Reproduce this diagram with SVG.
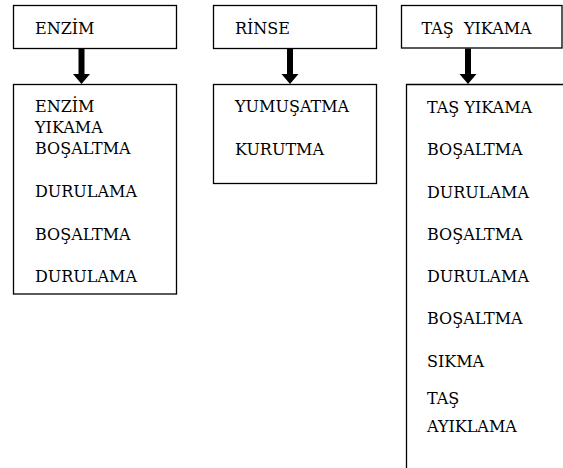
<svg xmlns="http://www.w3.org/2000/svg" width="563" height="468" viewBox="0 0 563 468">
<style>
.box{fill:#fff;stroke:#000;stroke-width:1.3}
.t{font-family:'DejaVu Serif',serif;font-size:16px;fill:#000}
.arr{fill:#000;stroke:none}
</style>
<rect width="563" height="468" fill="#fff"/>
<g id="enzim-head">
<rect class="box" x="13.5" y="5.5" width="163" height="43"/>
<text class="t" x="35" y="34">ENZİM</text>
</g>
<g id="enzim-steps">
<rect class="box" x="13.5" y="84.5" width="163" height="209.5"/>
<text class="t" x="35" y="112">ENZİM</text>
<text class="t" x="35" y="133">YIKAMA</text>
<text class="t" x="35" y="154">BOŞALTMA</text>
<text class="t" x="35" y="197">DURULAMA</text>
<text class="t" x="35" y="240">BOŞALTMA</text>
<text class="t" x="35" y="282">DURULAMA</text>
</g>
<g id="rinse-head">
<rect class="box" x="213.5" y="5.5" width="163" height="43"/>
<text class="t" x="235" y="34">RİNSE</text>
</g>
<g id="rinse-steps">
<rect class="box" x="213.5" y="84.5" width="163" height="99"/>
<text class="t" x="235" y="112">YUMUŞATMA</text>
<text class="t" x="235" y="155">KURUTMA</text>
</g>
<g id="tas-head">
<rect class="box" x="401.5" y="5.5" width="160.5" height="42.5"/>
<text class="t" x="421.5" y="34" xml:space="preserve">TAŞ  YIKAMA</text>
</g>
<g id="tas-steps">
<path d="M406.5 468 V84.5 H563" fill="none" stroke="#000" stroke-width="1.3"/>
<text class="t" x="427" y="113">TAŞ YIKAMA</text>
<text class="t" x="427" y="155">BOŞALTMA</text>
<text class="t" x="427" y="198">DURULAMA</text>
<text class="t" x="427" y="240">BOŞALTMA</text>
<text class="t" x="427" y="282">DURULAMA</text>
<text class="t" x="427" y="324">BOŞALTMA</text>
<text class="t" x="427" y="367">SIKMA</text>
<text class="t" x="427" y="404">TAŞ</text>
<text class="t" x="427" y="432">AYIKLAMA</text>
</g>
<g id="connectors">
<path class="arr" d="M78.5 49 H84.5 V74 H90 L81.5 84 L73 74 H78.5 Z"/>
<path class="arr" d="M287 49 H293 V74 H298.5 L290 84 L281.5 74 H287 Z"/>
<path class="arr" d="M465 48.5 H471 V74 H476.5 L468 84 L459.5 74 H465 Z"/>
</g>
</svg>
